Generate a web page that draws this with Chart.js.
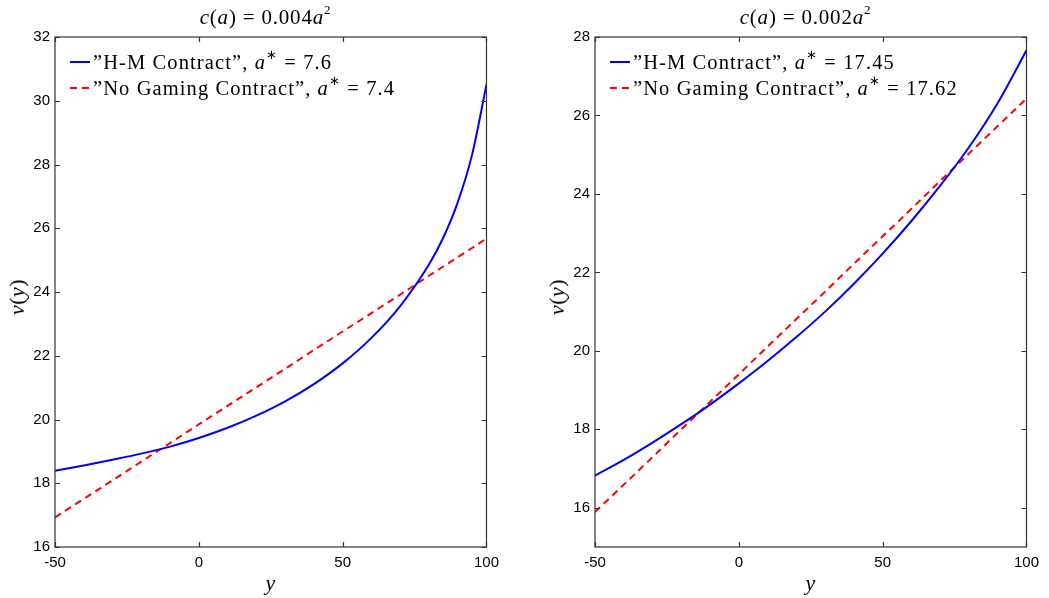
<!DOCTYPE html>
<html>
<head>
<meta charset="utf-8">
<script src="https://cdn.jsdelivr.net/npm/chart.js@4.4.0/dist/chart.umd.min.js"></script>
<style>
body { margin:0; background:#fff; width:1049px; height:598px; position:relative; overflow:hidden; font-family:"Liberation Serif", serif; color:#000; }
.panel { position:absolute; top:0; width:506px; height:598px; }
.panel canvas { position:absolute; left:0; top:0; }
.title { position:absolute; top:5px; left:50px; width:431px; text-align:center; font-size:21px; letter-spacing:0.8px; line-height:24px; }
.xlab { position:absolute; top:571px; left:55px; width:431px; text-align:center; font-size:22px; font-style:italic; line-height:24px; }
.ylab { position:absolute; left:17px; top:297px; transform:translate(-50%,-50%) rotate(-90deg); font-size:22px; letter-spacing:0.5px; white-space:nowrap; }
.legend { position:absolute; left:70px; top:49px; font-size:20.5px; letter-spacing:1.1px; line-height:26px; }
.legend .row { display:flex; align-items:center; white-space:nowrap; height:26px; }
.legend svg { margin-right:3px; }
sup { font-size:13px; line-height:0; position:relative; top:-2px; }
</style>
</head>
<body>
<div class="panel" style="left:0">
  <canvas id="leftChart" width="506" height="598"></canvas>
  <div class="title"><i>c</i>(<i>a</i>) = 0.004<i>a</i><sup>2</sup></div>
  <div class="xlab">y</div>
  <div class="ylab"><i>v</i>(<i>y</i>)</div>
  <div class="legend">
    <div class="row"><svg width="20" height="4"><line x1="0" y1="2" x2="20" y2="2" stroke="#0000ff" stroke-width="2"/></svg><span>”H-M Contract”, <i>a</i><sup>∗</sup> = 7.6</span></div>
    <div class="row"><svg width="20" height="4"><line x1="0" y1="2" x2="20" y2="2" stroke="#ff0000" stroke-width="2" stroke-dasharray="7,5"/></svg><span>”No Gaming Contract”, <i>a</i><sup>∗</sup> = 7.4</span></div>
  </div>
</div>
<div class="panel" style="left:540px">
  <canvas id="rightChart" width="506" height="598"></canvas>
  <div class="title"><i>c</i>(<i>a</i>) = 0.002<i>a</i><sup>2</sup></div>
  <div class="xlab">y</div>
  <div class="ylab"><i>v</i>(<i>y</i>)</div>
  <div class="legend">
    <div class="row"><svg width="20" height="4"><line x1="0" y1="2" x2="20" y2="2" stroke="#0000ff" stroke-width="2"/></svg><span>”H-M Contract”, <i>a</i><sup>∗</sup> = 17.45</span></div>
    <div class="row"><svg width="20" height="4"><line x1="0" y1="2" x2="20" y2="2" stroke="#ff0000" stroke-width="2" stroke-dasharray="7,5"/></svg><span>”No Gaming Contract”, <i>a</i><sup>∗</sup> = 17.62</span></div>
  </div>
</div>
<script>
// left panel: c(a) = 0.004a^2
const yLeft = [-50, -40, -30, -20, -10, 0, 10, 20, 30, 40, 50, 60, 70, 80, 85, 90, 95, 100];
const hmLeft = [18.39, 18.56, 18.74, 18.93, 19.15, 19.42, 19.74, 20.12, 20.57, 21.11, 21.76, 22.56, 23.56, 24.86, 25.71, 26.81, 28.31, 30.51];
const ngLeft = [16.93, 17.51, 18.09, 18.68, 19.26, 19.85, 20.43, 21.01, 21.59, 22.18, 22.76, 23.34, 23.92, 24.51, 24.8, 25.09, 25.38, 25.68];
const vTicksLeft = [16, 18, 20, 22, 24, 26, 28, 30, 32];

// right panel: c(a) = 0.002a^2
const yRight = [-50, -40, -30, -20, -10, 0, 10, 20, 30, 40, 50, 60, 70, 80, 90, 100];
const hmRight = [16.82, 17.22, 17.66, 18.13, 18.63, 19.17, 19.74, 20.35, 21.0, 21.71, 22.48, 23.31, 24.21, 25.19, 26.32, 27.66];
const ngRight = [15.89, 16.59, 17.29, 18.0, 18.7, 19.4, 20.11, 20.81, 21.51, 22.22, 22.92, 23.62, 24.33, 25.03, 25.73, 26.43];
const vTicksRight = [16, 18, 20, 22, 24, 26, 28];

const yTicks = [-50, 0, 50, 100];

// matlab style box with inward ticks
const boxAxes = {
    id: 'boxAxes',
    afterDraw(chart) {
        const { ctx, chartArea: a, scales: { x, y } } = chart;
        const len = 5;
        ctx.save();
        ctx.strokeStyle = '#333';
        ctx.lineWidth = 1.2;
        ctx.strokeRect(a.left, a.top, a.right - a.left, a.bottom - a.top);
        ctx.beginPath();
        x.ticks.forEach(t => {
            const px = Math.round(x.getPixelForValue(t.value)) + 0.5;
            ctx.moveTo(px, a.bottom); ctx.lineTo(px, a.bottom - len);
            ctx.moveTo(px, a.top); ctx.lineTo(px, a.top + len);
        });
        y.ticks.forEach(t => {
            const py = Math.round(y.getPixelForValue(t.value)) + 0.5;
            ctx.moveTo(a.left, py); ctx.lineTo(a.left + len, py);
            ctx.moveTo(a.right, py); ctx.lineTo(a.right - len, py);
        });
        ctx.stroke();
        ctx.restore();
    }
};

function toPoints(xs, vs) {
    return xs.map((v, i) => ({ x: v, y: vs[i] }));
}

function makeChart(id, xs, hm, ng, vMin, vMax, vTicks) {
    const ctx = document.getElementById(id).getContext('2d');
    return new Chart(ctx, {
        type: 'line',
        data: {
            datasets: [
                {
                    label: 'H-M Contract',
                    data: toPoints(xs, hm),
                    borderColor: '#0000ff',
                    borderWidth: 2,
                    pointRadius: 0,
                    cubicInterpolationMode: 'monotone'
                },
                {
                    label: 'No Gaming Contract',
                    data: toPoints(xs, ng),
                    borderColor: '#ff0000',
                    borderWidth: 2,
                    borderDash: [7, 5],
                    pointRadius: 0
                }
            ]
        },
        options: {
            responsive: false,
            animation: false,
            layout: { padding: { top: 37, right: 8, left: 0, bottom: 0 } },
            plugins: { legend: { display: false }, tooltip: { enabled: false } },
            scales: {
                x: {
                    type: 'linear',
                    min: -50,
                    max: 100,
                    afterBuildTicks: s => { s.ticks = yTicks.map(v => ({ value: v })); },
                    afterFit: s => { s.height = 51; },
                    grid: { display: false, drawTicks: false },
                    border: { display: false },
                    ticks: { color: '#000', padding: 7, font: { family: 'Liberation Sans', size: 15 } }
                },
                y: {
                    min: vMin,
                    max: vMax,
                    afterBuildTicks: s => { s.ticks = vTicks.map(v => ({ value: v })); },
                    afterFit: s => { s.width = 55; },
                    grid: { display: false, drawTicks: false },
                    border: { display: false },
                    ticks: { color: '#000', padding: 5, font: { family: 'Liberation Sans', size: 15 } }
                }
            }
        },
        plugins: [boxAxes]
    });
}

makeChart('leftChart', yLeft, hmLeft, ngLeft, 16, 32, vTicksLeft);
makeChart('rightChart', yRight, hmRight, ngRight, 15, 28, vTicksRight);
</script>
</body>
</html>
